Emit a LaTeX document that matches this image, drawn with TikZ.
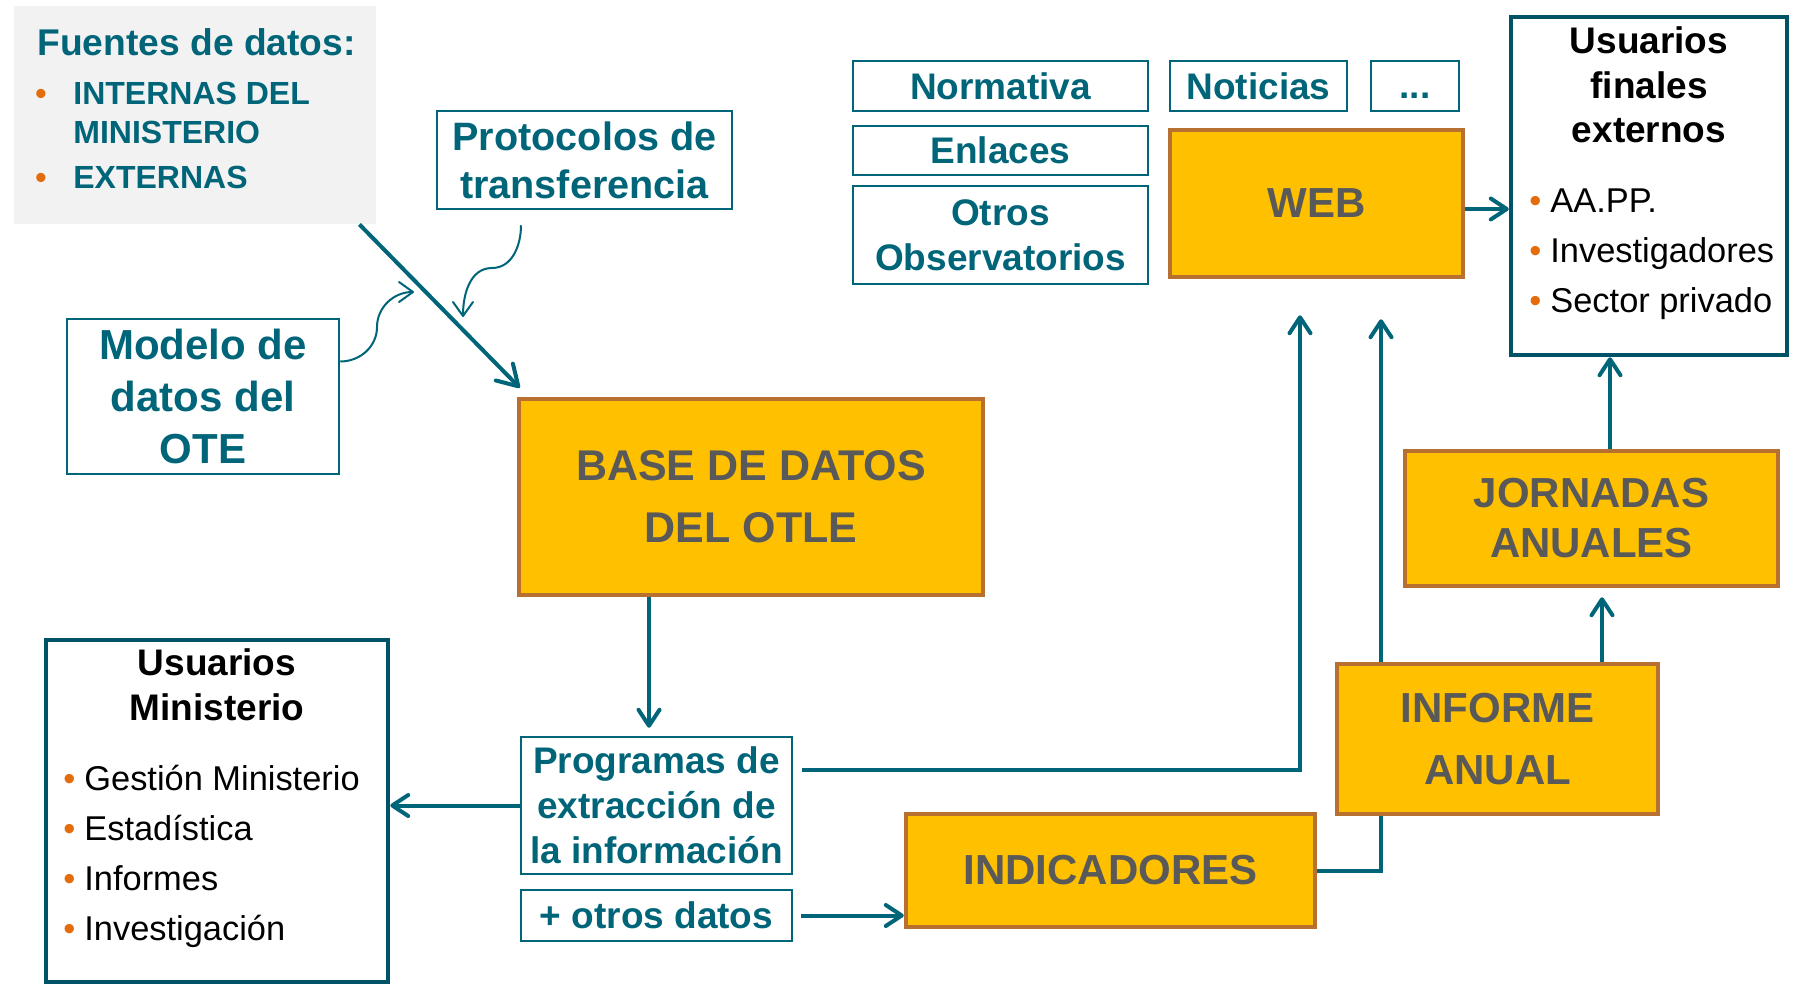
\documentclass[tikz,border=0pt]{standalone}
\usepackage{fontspec}
\setmainfont{Liberation Sans}
\usepackage{tikz}
\usetikzlibrary{calc}
\usetikzlibrary{arrows.meta}

\definecolor{otlteal}{RGB}{0,101,120}
\definecolor{otldark}{RGB}{0,82,102}
\definecolor{otlgold}{RGB}{255,192,0}
\definecolor{otlrim}{RGB}{184,112,48}
\definecolor{otlgray}{RGB}{89,89,89}
\definecolor{otlpale}{RGB}{242,242,242}
\definecolor{otlorange}{RGB}{228,108,10}

\newcommand{\obul}{{\color{otlorange}\textbullet}}

\tikzset{
	tealbox/.style={draw=otlteal, line width=1.25pt, text=otlteal, align=center, inner sep=0pt, font=\bfseries\fontsize{18.5}{22.5}\selectfont},
	goldbox/.style={draw=otlrim, fill=otlgold, line width=2.25pt, text=otlgray, align=center, inner sep=0pt, font=\bfseries\fontsize{21}{31}\selectfont},
	userbox/.style={draw=otldark, line width=2.25pt, inner sep=0pt},
	usertitle/.style={anchor=base, inner sep=0pt, font=\bfseries\fontsize{18.5}{22}\selectfont},
	useritem/.style={anchor=base west, inner sep=0pt, font=\fontsize{17.2}{20}\selectfont},
	srcitem/.style={anchor=base west, inner sep=0pt, text=otlteal, font=\bfseries\fontsize{16}{19}\selectfont},
	plainline/.style={draw=otlteal, line width=2pt},
	flow/.style={plainline, -{Straight Barb[length=8pt,width=10.5pt,line width=2pt,round]}},
	curl/.style={draw=otlteal, line width=1pt, -{Straight Barb[length=7pt,width=10pt,line width=1pt,round]}},
}

\begin{document}
\begin{tikzpicture}[x=0.5pt,y=-0.5pt]
	\useasboundingbox (0,0) rectangle (1798,986);

	% fuentes de datos
	\node[fill=otlpale, minimum width=181pt, minimum height=109pt, inner sep=0pt] (fuentes) at (195,115) {};
	\node[srcitem, font=\bfseries\fontsize{18.6}{21}\selectfont] (ftitle) at (37,55) {Fuentes de datos:};
	\node[srcitem] (fint) at (35,104) {\makebox[19pt][l]{\obul}INTERNAS DEL};
	\node[srcitem] (fmin) at (73,143) {MINISTERIO};
	\node[srcitem] (fext) at (35,188) {\makebox[19pt][l]{\obul}EXTERNAS};

	\node[tealbox, minimum width=147.5pt, minimum height=49pt, font=\bfseries\fontsize{19.8}{24}\selectfont] (protocolos) at (584.5,160) {Protocolos de\\transferencia};
	\node[tealbox, minimum width=136pt, minimum height=77.5pt, font=\bfseries\fontsize{21}{26}\selectfont] (modelo) at (203,396.5) {Modelo de\\datos del\\OTE};

	\node[goldbox, minimum width=232pt, minimum height=98pt, font=\bfseries\fontsize{21.5}{31}\selectfont] (base) at (751,497) {BASE DE DATOS\\DEL OTLE};

	% web y contenidos
	\node[tealbox, minimum width=147.5pt, minimum height=25pt] (normativa) at (1000.5,86) {Normativa};
	\node[tealbox, minimum width=88.5pt, minimum height=25pt] (noticias) at (1258.5,86) {Noticias};
	\node[tealbox, minimum width=44pt, minimum height=25pt] (etc) at (1415,86) {\vphantom{N}...};
	\node[tealbox, minimum width=147.5pt, minimum height=24.5pt] (enlaces) at (1000.5,150.5) {Enlaces};
	\node[tealbox, minimum width=147.5pt, minimum height=49pt] (otros) at (1000.5,235) {Otros\\Observatorios};
	\node[goldbox, minimum width=146.5pt, minimum height=73.5pt] (web) at (1316.5,203.5) {WEB};

	% usuarios finales externos
	\node[userbox, minimum width=138pt, minimum height=169pt] (externos) at (1649,186) {};
	\node[usertitle] (ext1) at (1649,53) {Usuarios};
	\node[usertitle] (ext2) at (1649,98) {finales};
	\node[usertitle] (ext3) at (1649,142) {externos};
	\foreach \txt [count=\i] in {AA.PP., Investigadores, Sector privado}
		\node[useritem] (extitem\i) at (1529,162+50*\i) {\makebox[10.5pt][l]{\obul}\txt};

	\node[goldbox, minimum width=186.5pt, minimum height=67.5pt, font=\bfseries\fontsize{21}{25}\selectfont] (jornadas) at (1591.5,518.5) {JORNADAS\\ANUALES};
	\node[goldbox, minimum width=160.5pt, minimum height=75pt] (informe) at (1497.5,739) {INFORME\\ANUAL};
	\node[goldbox, minimum width=204.5pt, minimum height=56.5pt] (indicadores) at (1110.5,870.5) {INDICADORES};

	\node[tealbox, minimum width=135.5pt, minimum height=68.5pt] (programas) at (656.5,805.5) {Programas de\\extracción de\\la información};
	\node[tealbox, minimum width=135.5pt, minimum height=25.5pt] (otrosdatos) at (656.5,915.5) {+ otros datos};

	% usuarios ministerio
	\node[userbox, minimum width=171pt, minimum height=171pt] (ministerio) at (217,811) {};
	\node[usertitle] (min1) at (217,675) {Usuarios};
	\node[usertitle] (min2) at (217,720) {Ministerio};
	\foreach \txt [count=\i] in {Gestión Ministerio, Estadística, Informes, Investigación}
		\node[useritem] (minitem\i) at (63,740+50*\i) {\makebox[10.5pt][l]{\obul}\txt};

	% flechas
	\draw[flow, -{Straight Barb[length=10pt,width=12pt,line width=2pt,round]}] ([xshift=-8.5pt]fuentes.south east) -- ([shift={(1.5pt,4.5pt)}]base.north west);
	\coordinate (protoend) at (463,317);
	\draw[curl] ([shift={(-31.75pt,-7.5pt)}]protocolos.south) to[out=-90,in=0] (492,268) to[out=180,in=90] (protoend);
	\coordinate (modelend) at (414,292);
	\draw[curl] ([yshift=17.5pt]modelo.east) to[out=0,in=-90] (377,327) to[out=90,in=180] (modelend);

	\draw[flow] ([xshift=-51pt]base.south) -- ([shift={(-3.75pt,4pt)}]programas.north);
	\draw[flow] (programas.west) -- (programas.west -| ministerio.east);
	\draw[flow] ([shift={(4.5pt,18pt)}]programas.east) -| ([shift={(-8.25pt,-18pt)}]web.south);
	\draw[flow] ([xshift=4pt]otrosdatos.east) -- (otrosdatos.east -| indicadores.west);
	\draw[plainline] (indicadores.east) -| ([xshift=-58.25pt]informe.south);
	\draw[flow] ([xshift=-58.25pt]informe.north) -- ([shift={(32.25pt,-20pt)}]web.south);
	\draw[flow] ([xshift=52.25pt]informe.north) -- ([shift={(5.25pt,-4.5pt)}]jornadas.south);
	\draw[flow] ([xshift=9.25pt]jornadas.north) -- ([xshift=-19.5pt]externos.south);
	\coordinate (webout) at ([yshift=-2.75pt]web.east);
	\draw[flow] (webout) -- (webout -| externos.west);
\end{tikzpicture}
\end{document}
